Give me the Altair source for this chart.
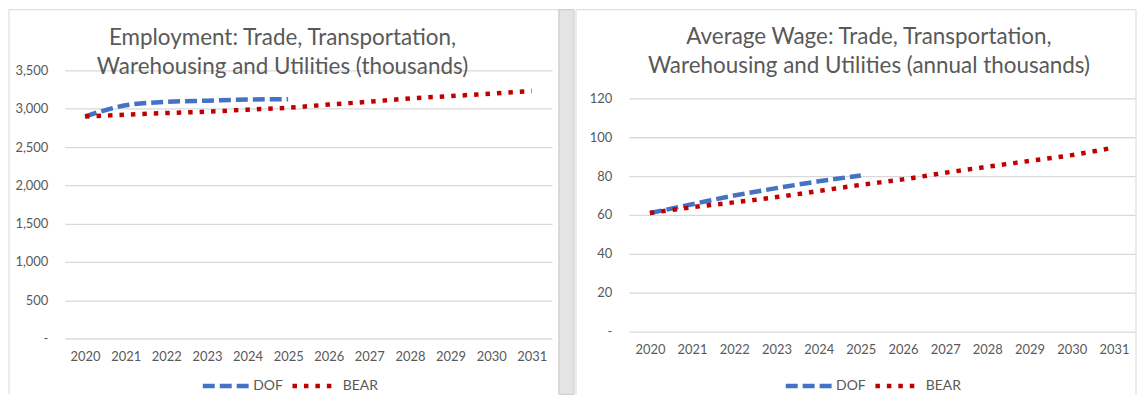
import altair as alt
import pandas as pd

# values
years = list(range(2020, 2032))
emp_dof = [2900, 3045, 3090, 3105, 3120, 3125]
emp_bear = [2900, 2922, 2944, 2962, 2988, 3013, 3055, 3092, 3135, 3165, 3198, 3232]
wage_dof = [61.0, 65.5, 70.0, 73.8, 77.3, 80.3]
wage_bear = [61.0, 64.0, 66.5, 69.2, 72.3, 75.5, 78.3, 81.7, 84.8, 87.8, 90.8, 94.7]

series = ["DOF", "BEAR"]
series_colors = ["#4472C4", "#C00000"]
series_dash = [[12, 5], [4.5, 7]]

emp_ticks = list(range(0, 3501, 500))
wage_ticks = list(range(0, 121, 20))

emp_title = ["Employment: Trade, Transportation,", "Warehousing and Utilities (thousands)"]
wage_title = ["Average Wage: Trade, Transportation,", "Warehousing and Utilities (annual thousands)"]

TEXT = "#595959"
GRID = "#D9D9D9"


def long_table(dof, bear):
    rows = []
    for name, vals in (("DOF", dof), ("BEAR", bear)):
        for yr, v in zip(years, vals):
            rows.append({"year": yr, "series": name, "value": v})
    return pd.DataFrame(rows)


def panel(df, title, ticks, y_top, width, height, frame, sep, legend_xy, title_dx, title_offset):
    legend = alt.Legend(
        title=None, orient="none", direction="horizontal",
        legendX=legend_xy[0], legendY=legend_xy[1],
        symbolType="stroke", symbolSize=2116, symbolStrokeWidth=4.5,
        labelFontSize=14, labelColor=TEXT, labelOffset=2, columnPadding=0,
    )
    lines = alt.Chart(df).mark_line(strokeWidth=4.5, interpolate="monotone").encode(
        x=alt.X("year:O", title=None, scale=alt.Scale(padding=0.5),
                axis=alt.Axis(labelAngle=0, grid=False, ticks=False, domain=False,
                              labelPadding=12, labelFontSize=13, labelColor=TEXT)),
        y=alt.Y("value:Q", title=None,
                scale=alt.Scale(domain=[ticks[0], y_top], nice=False),
                axis=alt.Axis(values=ticks, grid=True, gridColor=GRID, gridWidth=1.3,
                              domain=False, ticks=False, labelPadding=17,
                              labelFontSize=13, labelColor=TEXT,
                              labelExpr="datum.value == 0 ? '-' : format(datum.value, ',')")),
        color=alt.Color("series:N", scale=alt.Scale(domain=series, range=series_colors), legend=legend),
        strokeDash=alt.StrokeDash("series:N", scale=alt.Scale(domain=series, range=series_dash), legend=legend),
    )

    # panel border (top, left, right edges) like the Excel chart frames
    one = pd.DataFrame({"p": [0]})
    x0, x1, y0, y1 = frame
    edge = alt.Chart(one).mark_rule(color=GRID, strokeWidth=1)
    layers = [
        edge.encode(x=alt.value(x0), x2=alt.value(x1), y=alt.value(y0)),
        edge.encode(x=alt.value(x0), y=alt.value(y0), y2=alt.value(y1)),
        edge.encode(x=alt.value(x1), y=alt.value(y0), y2=alt.value(y1)),
    ]
    if sep is not None:
        layers.append(alt.Chart(one).mark_rect(fill="#E4E4E4", stroke="#C8C8C8", strokeWidth=1).encode(
            x=alt.value(sep[0]), x2=alt.value(sep[1]),
            y=alt.value(y0), y2=alt.value(y1),
        ))
    layers.append(lines)

    return alt.layer(*layers).properties(
        width=width, height=height,
        title=alt.TitleParams(title, anchor="middle", frame="group", dx=title_dx,
                              fontSize=22.5, fontWeight="normal", color=TEXT,
                              lineHeight=30, offset=title_offset),
    )


# both plot areas start at the same height; the wage panel has empty room above 120
left_w, left_h = 489, 269
right_w, right_h = 508, 262
wage_top = 120 * right_h / 234

left = panel(long_table(emp_dof, emp_bear), emp_title, emp_ticks, 3500, left_w, left_h,
             frame=(-56, left_w + 7, -61, 325), sep=(left_w + 7, left_w + 22),
             legend_xy=(136, 291), title_dx=-26, title_offset=-70)
right = panel(long_table(wage_dof, wage_bear), wage_title, wage_ticks, wage_top, right_w, right_h,
              frame=(-53, right_w + 1, -61, 325), sep=None,
              legend_xy=(155, 291), title_dx=-13, title_offset=-69)

chart = alt.hconcat(left, right, spacing=0).resolve_scale(
    x="independent", y="independent", color="independent", strokeDash="independent"
).properties(padding=0).configure(
    font="Lato", background="white"
).configure_view(stroke=None)

chart.save("out.html", embed_options={"renderer": "svg", "actions": False})
